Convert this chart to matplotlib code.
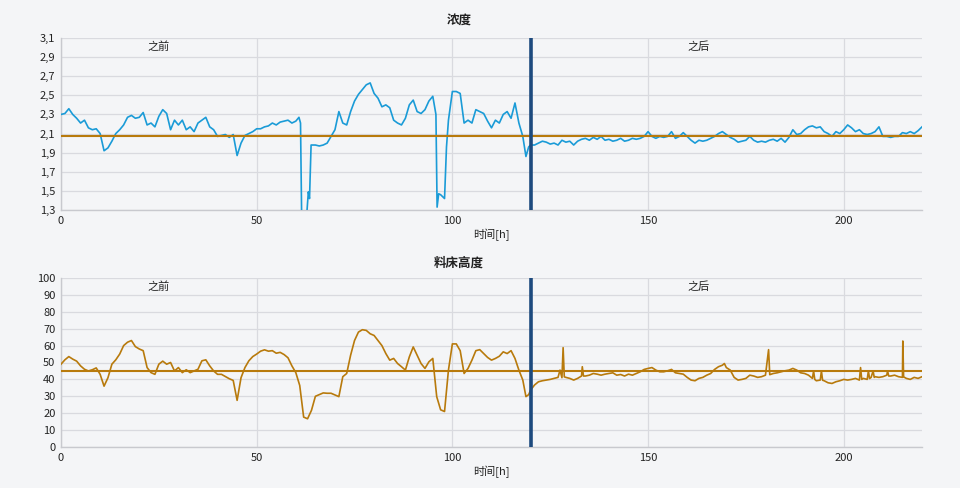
import matplotlib
matplotlib.use("Agg")
import matplotlib.pyplot as plt
from matplotlib.ticker import FuncFormatter, MultipleLocator

plt.rcParams['font.family'] = ['Noto Sans CJK SC', 'DejaVu Sans']

# ---------------- data ----------------
conc_hours = [0, 1, 2, 3, 4, 5, 6, 7, 8, 9, 10, 11, 12, 13, 14, 15, 16, 17, 18, 19,
              20, 21, 22, 23, 24, 25, 26, 27, 28, 29, 30, 31, 32, 33, 34, 35, 36, 37, 38, 39,
              40, 41, 42, 43, 44, 45, 46, 47, 48, 49, 50, 51, 52, 53, 54, 55, 56, 57, 58, 59,
              60, 60.8, 61.2, 61.5, 62, 62.7, 63.2, 63.5, 63.9, 65, 66, 67, 68, 69,
              70, 71, 72, 73, 74, 75, 76, 77, 78, 79, 80, 81, 82, 83, 84, 85, 86, 87, 88, 89,
              90, 91, 92, 93, 94, 95, 95.8, 96.1, 96.5, 97, 98, 98.5, 99,
              100, 101, 102, 103, 104, 105, 106, 107, 108, 109, 110, 111, 112, 113, 114, 115,
              116, 117, 118, 118.8, 119.5, 120, 121, 122, 123, 124, 125, 126, 127, 128, 129,
              130, 131, 132, 133, 134, 135, 136, 137, 138, 139, 140, 141, 142, 143, 144, 145,
              146, 147, 148, 149, 150, 151, 152, 153, 154, 155, 156, 157, 158, 159, 160, 161,
              162, 163, 164, 165, 166, 167, 168, 169, 170, 171, 172, 173, 174, 175, 176, 177,
              178, 179, 180, 181, 182, 183, 184, 185, 186, 187, 188, 189, 190, 191, 192, 193,
              194, 195, 196, 197, 198, 199, 200, 201, 202, 203, 204, 205, 206, 207, 208, 209,
              210, 211, 212, 213, 214, 215, 216, 217, 218, 219, 220]
concentration = [2.30, 2.31, 2.36, 2.30, 2.26, 2.21, 2.24, 2.16, 2.14, 2.15, 2.10, 1.92, 1.95, 2.02, 2.10, 2.14, 2.19, 2.27, 2.29, 2.26,
                 2.27, 2.32, 2.19, 2.21, 2.17, 2.28, 2.35, 2.31, 2.14, 2.24, 2.19, 2.24, 2.14, 2.17, 2.12, 2.21, 2.24, 2.27, 2.17, 2.14,
                 2.07, 2.08, 2.09, 2.06, 2.09, 1.87, 2.00, 2.08, 2.10, 2.12, 2.15, 2.15, 2.17, 2.18, 2.21, 2.19, 2.22, 2.23, 2.24, 2.21,
                 2.23, 2.27, 2.21, 1.20, 1.15, 1.20, 1.49, 1.42, 1.98, 1.98, 1.97, 1.98, 2.00, 2.07,
                 2.14, 2.33, 2.21, 2.19, 2.33, 2.44, 2.51, 2.56, 2.61, 2.63, 2.52, 2.47, 2.38, 2.40, 2.37, 2.24, 2.21, 2.19, 2.26, 2.40,
                 2.45, 2.33, 2.31, 2.35, 2.44, 2.49, 2.30, 1.33, 1.47, 1.46, 1.42, 1.96, 2.24,
                 2.54, 2.54, 2.52, 2.21, 2.24, 2.21, 2.35, 2.33, 2.31, 2.23, 2.16, 2.24, 2.21, 2.30, 2.33, 2.26,
                 2.42, 2.21, 2.07, 1.86, 1.96, 1.98, 1.98, 2.00, 2.02, 2.01, 1.99, 2.00, 1.98, 2.03, 2.01,
                 2.02, 1.98, 2.02, 2.04, 2.05, 2.03, 2.06, 2.04, 2.07, 2.03, 2.04, 2.02, 2.03, 2.05, 2.02, 2.03,
                 2.05, 2.04, 2.05, 2.07, 2.12, 2.07, 2.05, 2.07, 2.06, 2.07, 2.12, 2.05, 2.07, 2.11, 2.07, 2.03,
                 2.00, 2.03, 2.02, 2.03, 2.05, 2.07, 2.10, 2.12, 2.09, 2.06, 2.04, 2.01, 2.02, 2.03, 2.07, 2.03,
                 2.01, 2.02, 2.01, 2.03, 2.04, 2.02, 2.05, 2.01, 2.06, 2.14, 2.09, 2.10, 2.14, 2.17, 2.18, 2.16,
                 2.17, 2.12, 2.10, 2.07, 2.12, 2.10, 2.14, 2.19, 2.16, 2.12, 2.14, 2.10, 2.09, 2.10, 2.12, 2.17,
                 2.07, 2.07, 2.06, 2.07, 2.07, 2.11, 2.10, 2.12, 2.10, 2.13, 2.17]

bed_hours = [0, 1, 2, 3, 4, 5, 6, 7, 8, 9, 10, 11, 12, 13, 14, 15, 16, 17, 18, 19,
             20, 21, 22, 23, 24, 25, 26, 27, 28, 29, 30, 31, 32, 33, 34, 35, 36, 37, 38, 39,
             40, 41, 42, 43, 44, 45, 46, 47, 48, 49, 50, 51, 52, 53, 54, 55, 56, 57, 58, 59,
             60, 61, 62, 63, 64, 65, 66, 67, 68, 69, 70, 71, 72, 73, 74, 75, 76, 77, 78, 79,
             80, 81, 82, 83, 84, 85, 86, 87, 88, 89, 90, 91, 92, 93, 94, 95, 96, 97, 98, 99,
             100, 101, 102, 103, 104, 105, 106, 107, 108, 109, 110, 111, 112, 113, 114, 115,
             116, 117, 118, 118.8, 119.5, 120, 121, 122, 123, 124, 125, 126, 127, 127.5, 128,
             128.3, 128.6, 129, 130, 131, 132, 133, 133.2, 133.5, 134, 135, 136, 137, 138, 139,
             140, 141, 142, 143, 144, 145, 146, 147, 148, 149, 150, 151, 152, 153, 154, 155,
             156, 157, 158, 159, 160, 161, 162, 163, 164, 165, 166, 167, 168, 169, 169.5, 170,
             171, 172, 173, 174, 175, 176, 177, 178, 179, 180, 180.8, 181.1, 182, 183, 184, 185,
             186, 187, 188, 189, 190, 191, 192, 192.3, 192.6, 193, 194, 194.3, 194.6, 195, 196,
             197, 198, 199, 200, 201, 202, 203, 204, 204.3, 204.6, 205, 206, 206.3, 206.6, 207,
             207.5, 207.8, 208, 209, 210, 211, 211.2, 211.5, 212, 213, 214, 215, 215.1, 215.3,
             216, 217, 218, 219, 220]
bed_height = [49, 51.6, 53.5, 52, 50.8, 48, 46, 45, 45.7, 46.8, 43, 36, 41, 49, 51.6, 55, 60, 62, 63, 59.4,
              58, 57, 47, 44, 43, 49, 50.8, 49, 50, 45, 47, 44, 45.7, 44, 45, 46, 51, 51.6, 48, 45,
              43, 43, 41.7, 40.4, 39.4, 27.6, 41, 47, 51, 53.5, 55, 56.7, 57.5, 56.7, 57, 55.5, 56, 54.7, 52.8, 48,
              44, 36.4, 17.7, 16.7, 21.7, 30, 31, 32, 31.8, 31.8, 30.8, 29.8, 41.6, 43.5, 54.3, 63, 68, 69.4, 69, 67,
              66, 63, 60, 55.3, 51.4, 52.4, 49.4, 47.5, 45.5, 53.3, 59.2, 54.3, 49.4, 46.5, 50.4, 52.4, 29.8, 22, 21, 45.5,
              61, 61, 57, 43.5, 46.5, 51.4, 57, 57.6, 55.3, 53, 51.4, 52.4, 53.7, 56.3, 55.3, 57,
              52.4, 45.5, 39.6, 29.8, 31, 33.7, 36.7, 38.6, 39.2, 39.6, 40, 40.6, 41.2, 45.5, 41,
              58.8, 41.5, 41.2, 40.6, 39.6, 40.6, 42, 47.5, 42, 42, 42.5, 43.5, 43.1, 42.5, 43.1,
              43.5, 43.9, 42.5, 42.9, 42, 43.1, 42.5, 43.5, 44.5, 45.9, 46.5, 47, 45.5, 44.5, 44.5, 45.1,
              45.9, 43.9, 43.5, 43.1, 41.2, 39.6, 39.2, 40.6, 41.2, 42.5, 43.5, 45.9, 47.5, 48.4, 49.4, 47,
              45.5, 41.2, 39.6, 40, 40.6, 42.5, 42, 41.2, 41.6, 42.5, 57.6, 42.8, 43.5, 43.9, 44.5, 45.1,
              45.5, 46.5, 45.5, 43.9, 43.5, 42.5, 40.6, 45, 40, 39.2, 39.6, 45, 39.5, 39.2, 38,
              37.6, 38.6, 39.2, 40, 39.6, 40, 40.6, 39.6, 47, 40, 40.6, 40, 45, 40.5, 41.2,
              45, 41.2, 41.6, 41.2, 41.6, 42.5, 45, 42, 42, 42.5, 41.6, 41.2, 62.7, 41.5,
              40.6, 40, 41.2, 40.6, 41.6]

conc_reference = 2.075
bed_reference = 45
split_hour = 120
conc_ticks = [1.3, 1.5, 1.7, 1.9, 2.1, 2.3, 2.5, 2.7, 2.9, 3.1]
bed_ticks = [0, 10, 20, 30, 40, 50, 60, 70, 80, 90, 100]
x_ticks = [0, 50, 100, 150, 200]
titles = ["浓度", "料床高度"]
x_label = "时间[h]"
before_label = "之前"
after_label = "之后"

# ---------------- style ----------------
BG = "#f4f5f7"
GRID = "#d9dadf"
BLUE = "#1a9bd7"
GOLD = "#b87a0c"
NAVY = "#1d4a7e"
TXT = "#222222"

fig = plt.figure(figsize=(9.6, 4.88), dpi=100, facecolor=BG)
ax1 = fig.add_axes([61/960, 1-210/488, (922-61)/960, (210-38)/488])
ax2 = fig.add_axes([61/960, 1-447/488, (922-61)/960, (447-278)/488])

comma = FuncFormatter(lambda v, p: f"{v:.1f}".replace(".", ","))

def style(ax, ticks, ylim):
    ax.set_facecolor(BG)
    ax.set_xlim(0, 220)
    ax.set_ylim(*ylim)
    ax.set_yticks(ticks)
    ax.set_xticks(x_ticks)
    ax.grid(True, color=GRID, linewidth=0.9)
    ax.set_axisbelow(True)
    for s in ["top", "right"]:
        ax.spines[s].set_visible(False)
    for s in ["left", "bottom"]:
        ax.spines[s].set_color("#c8c9ce")
        ax.spines[s].set_linewidth(1.0)
    ax.tick_params(length=0, labelsize=8, colors=TXT, pad=4)
    ax.set_xlabel(x_label, fontsize=8, color=TXT, labelpad=2)

style(ax1, conc_ticks, (1.3, 3.1))
ax1.yaxis.set_major_formatter(comma)
ax1.plot(conc_hours, concentration, color=BLUE, linewidth=1.2, zorder=3)
ax1.axhline(conc_reference, color=GOLD, linewidth=1.5, zorder=4)
ax1.axvline(split_hour, color=NAVY, linewidth=2.6, zorder=5)
ax1.text(25, 3.01, before_label, ha="center", va="center", fontsize=8, color=TXT)
ax1.text(163, 3.01, after_label, ha="center", va="center", fontsize=8, color=TXT)

style(ax2, bed_ticks, (0, 100))
ax2.plot(bed_hours, bed_height, color=GOLD, linewidth=1.2, zorder=3)
ax2.axhline(bed_reference, color=GOLD, linewidth=1.5, zorder=4)
ax2.axvline(split_hour, color=NAVY, linewidth=2.6, zorder=5)
ax2.text(25, 95, before_label, ha="center", va="center", fontsize=8, color=TXT)
ax2.text(163, 95, after_label, ha="center", va="center", fontsize=8, color=TXT)

fig.text(459/960, 1-21/488, titles[0], ha="center", va="center", fontsize=9, fontweight="bold", color=TXT)
fig.text(459/960, 1-263/488, titles[1], ha="center", va="center", fontsize=9, fontweight="bold", color=TXT)

fig.savefig("out.png", dpi=100, facecolor=BG)
